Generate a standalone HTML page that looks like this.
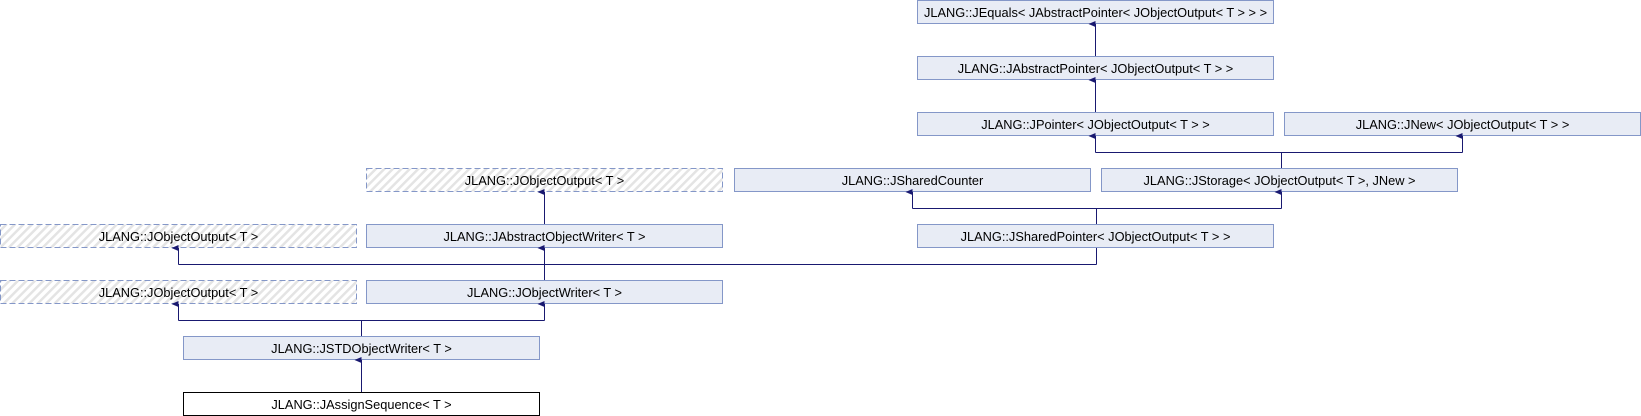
<!DOCTYPE html>
<html><head><meta charset="utf-8"><style>
html,body{margin:0;padding:0;background:#fff;width:1641px;height:416px;overflow:hidden}
text{font-family:"Liberation Sans",sans-serif;font-size:12.8px;fill:#000;text-anchor:middle}
</style></head><body>
<svg width="1641" height="416" viewBox="0 0 1641 416" xmlns="http://www.w3.org/2000/svg">
<defs>
<pattern id="h" width="6" height="6" patternUnits="userSpaceOnUse" patternTransform="rotate(45)">
<rect width="6" height="6" fill="#fff"/><rect width="2.5" height="6" fill="#e4e4e4"/></pattern>
<marker id="a" markerWidth="8" markerHeight="8" refX="4" refY="7" orient="auto-start-reverse" markerUnits="userSpaceOnUse">
<path d="M1,7 L4,0 L7,7 Z" fill="#191970"/></marker>
</defs>
<g fill="#e8ecf5" stroke="#8497c8" stroke-width="1">
<rect x="917.5" y="0.5" width="356" height="23"/>
<rect x="917.5" y="56.5" width="356" height="23"/>
<rect x="917.5" y="112.5" width="356" height="23"/>
<rect x="1284.5" y="112.5" width="356" height="23"/>
<rect x="734.5" y="168.5" width="356" height="23"/>
<rect x="1101.5" y="168.5" width="356" height="23"/>
<rect x="366.5" y="224.5" width="356" height="23"/>
<rect x="917.5" y="224.5" width="356" height="23"/>
<rect x="366.5" y="280.5" width="356" height="23"/>
<rect x="183.5" y="336.5" width="356" height="23"/>
</g>
<g fill="url(#h)" stroke="#8497c8" stroke-dasharray="6,3">
<rect x="366.5" y="168.5" width="356" height="23"/>
<rect x="0.5" y="224.5" width="356" height="23"/>
<rect x="0.5" y="280.5" width="356" height="23"/>
</g>
<rect x="183.5" y="392.5" width="356" height="23" fill="#fff" stroke="#000"/>
<g stroke="#191970" stroke-width="1" fill="none">
<path d="M1095.5,56 V24" marker-end="url(#a)"/>
<path d="M1095.5,112 V80" marker-end="url(#a)"/>
<path d="M1281.5,168 V152.5 M1095.5,152.5 H1462.5"/>
<path d="M1095.5,152.5 V136" marker-end="url(#a)"/>
<path d="M1462.5,152.5 V136" marker-end="url(#a)"/>
<path d="M1096.5,224 V208.5 M912.5,208.5 H1281.5"/>
<path d="M912.5,208.5 V192" marker-end="url(#a)"/>
<path d="M1281.5,208.5 V192" marker-end="url(#a)"/>
<path d="M544.5,224 V192" marker-end="url(#a)"/>
<path d="M1096.5,248 V264.5 M178.5,264.5 H1096.5"/>
<path d="M544.5,280 V248" marker-end="url(#a)"/>
<path d="M178.5,264.5 V248" marker-end="url(#a)"/>
<path d="M361.5,336 V320.5 M178.5,320.5 H544.5"/>
<path d="M178.5,320.5 V304" marker-end="url(#a)"/>
<path d="M544.5,320.5 V304" marker-end="url(#a)"/>
<path d="M361.5,392 V360" marker-end="url(#a)"/>
</g>
<text x="1095.5" y="17">JLANG::JEquals&lt; JAbstractPointer&lt; JObjectOutput&lt; T &gt; &gt; &gt;</text>
<text x="1095.5" y="73">JLANG::JAbstractPointer&lt; JObjectOutput&lt; T &gt; &gt;</text>
<text x="1095.5" y="129">JLANG::JPointer&lt; JObjectOutput&lt; T &gt; &gt;</text>
<text x="1462.5" y="129">JLANG::JNew&lt; JObjectOutput&lt; T &gt; &gt;</text>
<text x="544.5" y="185">JLANG::JObjectOutput&lt; T &gt;</text>
<text x="912.5" y="185">JLANG::JSharedCounter</text>
<text x="1279.5" y="185">JLANG::JStorage&lt; JObjectOutput&lt; T &gt;, JNew &gt;</text>
<text x="178.5" y="241">JLANG::JObjectOutput&lt; T &gt;</text>
<text x="544.5" y="241">JLANG::JAbstractObjectWriter&lt; T &gt;</text>
<text x="1095.5" y="241">JLANG::JSharedPointer&lt; JObjectOutput&lt; T &gt; &gt;</text>
<text x="178.5" y="297">JLANG::JObjectOutput&lt; T &gt;</text>
<text x="544.5" y="297">JLANG::JObjectWriter&lt; T &gt;</text>
<text x="361.5" y="353">JLANG::JSTDObjectWriter&lt; T &gt;</text>
<text x="361.5" y="409">JLANG::JAssignSequence&lt; T &gt;</text>
</svg>
</body></html>
